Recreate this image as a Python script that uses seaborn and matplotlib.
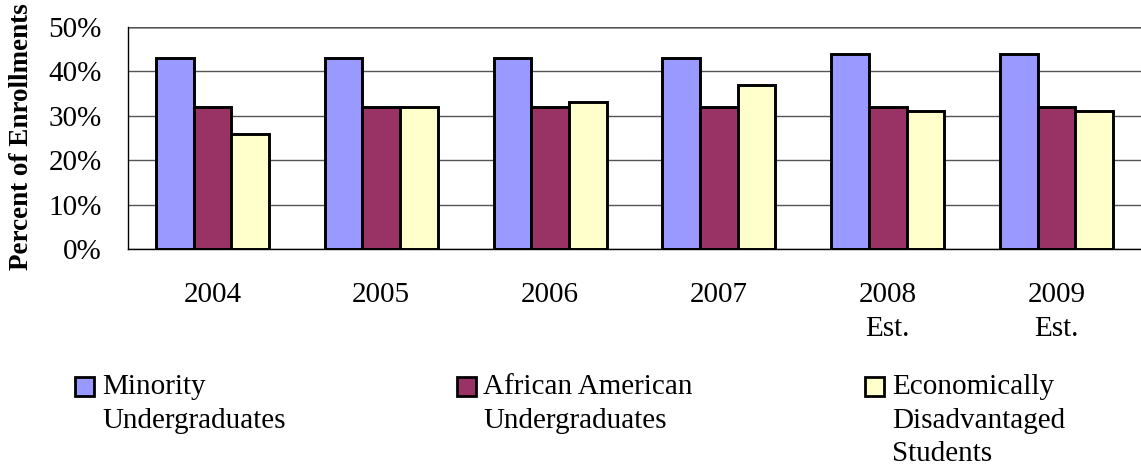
import numpy as np
import pandas as pd
import seaborn as sns
import matplotlib.pyplot as plt
from matplotlib.patches import Rectangle

# chart data
years = ['2004', '2005', '2006', '2007', '2008\nEst.', '2009\nEst.']
minority = [43, 43, 43, 43, 44, 44]
african_american = [32, 32, 32, 32, 32, 32]
econ_disadvantaged = [26, 32, 33, 37, 31, 31]
series_names = ['Minority\nUndergraduates',
                'African American\nUndergraduates',
                'Economically\nDisadvantaged\nStudents']
colors = ['#9999FF', '#993366', '#FFFFCC']

# long table for seaborn
df = pd.DataFrame({
    'year': years * 3,
    'value': minority + african_american + econ_disadvantaged,
    'group': [s for s in series_names for _ in years],
})

sns.set_style('white')
plt.rcParams['font.family'] = ['Liberation Serif', 'DejaVu Serif']
plt.rcParams['text.color'] = 'black'
plt.rcParams['xtick.color'] = 'black'
plt.rcParams['ytick.color'] = 'black'

W, H = 1141, 470
fig = plt.figure(figsize=(W / 100, H / 100), dpi=100)
ax = fig.add_axes([128 / W, 1 - 249 / H, 1 - 128 / W, 222 / H])

sns.barplot(data=df, x='year', y='value', hue='group', palette=colors,
            saturation=1, width=0.67, edgecolor='black', linewidth=2.1,
            legend=False, ax=ax)

ax.set_xlim(-0.5, 5.5)
ax.set_ylim(0, 50)
ax.set_yticks(range(0, 51, 10))
ax.set_yticklabels(['{}%'.format(v) for v in range(0, 51, 10)])
ax.set_xticks(range(len(years)))
ax.set_xticklabels(years, linespacing=1.4)
ax.set_xticks(np.arange(-0.5, len(years), 1), minor=True)
ax.tick_params(axis='x', which='major', length=0, pad=24, labelsize=21)
ax.tick_params(axis='x', which='minor', length=7, width=1, direction='out')
ax.tick_params(axis='y', length=7, width=1, direction='out', pad=12, labelsize=21)
ax.set_xlabel('')
ax.set_ylabel('')

# gridlines
ax.yaxis.grid(True, color='#555555', linewidth=1)
ax.set_axisbelow(True)
ax.axhline(50, color='#999999', linewidth=2, zorder=0)

for s in ['top', 'right']:
    ax.spines[s].set_visible(False)
for s in ['left', 'bottom']:
    ax.spines[s].set_color('black')
    ax.spines[s].set_linewidth(1)

fig.text(22 / W, 1 - 137 / H, 'Percent of Enrollments', rotation=90, ha='center',
         va='center', fontsize=19.5, fontweight='bold')

# legend drawn below the plot
legend_x = [75, 457, 865]
text_x = [102, 483, 892]
for x0, tx, name, c in zip(legend_x, text_x, series_names, colors):
    fig.patches.append(Rectangle((x0 / W, 1 - 396 / H), 19 / W, 19 / H,
                                 transform=fig.transFigure, facecolor=c,
                                 edgecolor='black', linewidth=2))
    fig.text(tx / W, 1 - 374 / H, name, ha='left', va='top',
             fontsize=21, linespacing=1.38)

fig.savefig('out.png', dpi=100)
